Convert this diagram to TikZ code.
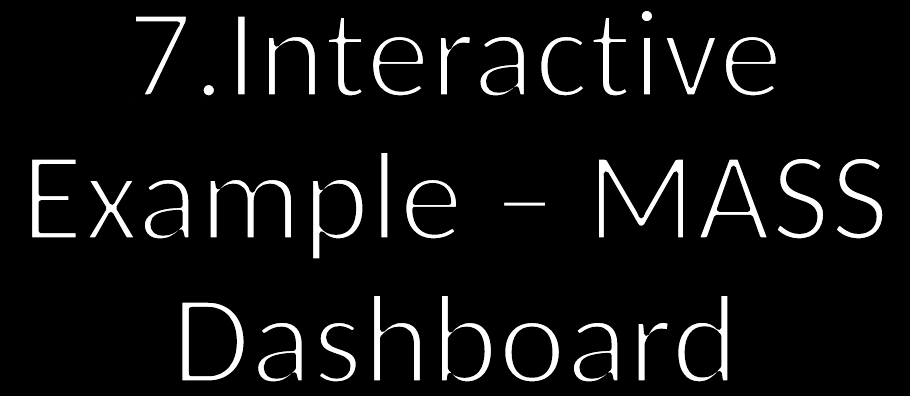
\documentclass[tikz,border=0pt]{standalone}
\usepackage{fontspec}
\setmainfont[Ligatures={NoCommon}]{Carlito}
\newcommand{\thintext}[1]{\special{pdf:literal 2 Tr 5 w 1 j 0 0 0 RG}#1\special{pdf:literal 0 Tr}}
\begin{document}
\begin{tikzpicture}[x=1pt,y=1pt,
  titletext/.style={text=white, inner sep=0pt, anchor=base, font=\fontsize{129}{129}\selectfont}]
\fill[black] (0,0) rectangle (910,396);
\useasboundingbox (0,0) rectangle (910,396);
\node[titletext] (l1) at (455,299) {\thintext{7.Interactive}};
\node[titletext] (l2) at (455,156) {\thintext{Example – MASS}};
\node[titletext] (l3) at (455,13) {\thintext{Dashboard}};
\end{tikzpicture}
\end{document}
